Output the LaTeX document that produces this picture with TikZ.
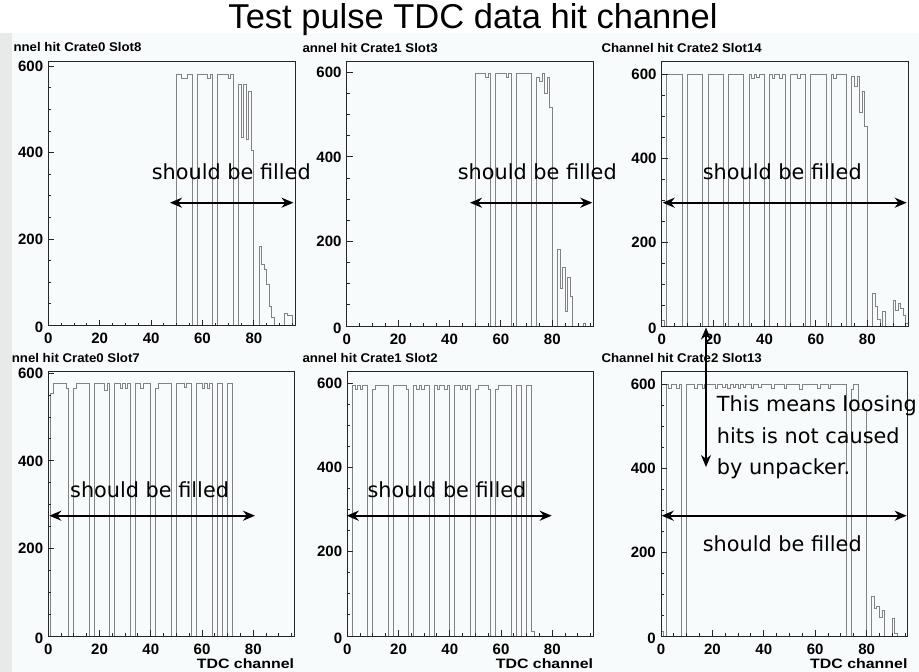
\documentclass[tikz,border=0pt]{standalone}
\usepackage{fontspec}
\setmainfont{Liberation Sans}
\newfontfamily\annotfont{DejaVu Sans}
\usetikzlibrary{arrows.meta}
\definecolor{histgray}{RGB}{130,130,130}
\definecolor{paneltint}{RGB}{248,251,251}
\definecolor{stripgray}{RGB}{232,234,234}
\tikzset{
  frame/.style={draw=black!85, line width=1pt},
  hist/.style={draw=histgray, line width=0.9pt},
  xlab/.style={font=\bfseries\fontsize{15}{15}\selectfont, inner sep=0, anchor=base, yshift=-18.3pt},
  ylab/.style={font=\bfseries\fontsize{15}{15}\selectfont, inner sep=0, anchor=east, xshift=-5pt},
  ptitle/.style={font=\bfseries\fontsize{12.6}{12.6}\selectfont, xscale=1.05, inner sep=0, anchor=base east},
  axtitle/.style={font=\bfseries\fontsize{13.6}{13.6}\selectfont, xscale=1.17, inner sep=0, anchor=base east},
  annot/.style={font=\annotfont\fontsize{20.8}{20.8}\selectfont, inner sep=0, anchor=base west},
  dbl/.style={{Stealth[length=12pt,width=10pt]}-{Stealth[length=12pt,width=10pt]}, line width=2.4pt, draw=black},
  pA/.style={shift={(48.3,325.5)}, x=2.57pt, y=0.432pt},
  pB/.style={shift={(346.7,326)}, x=2.57pt, y=0.4228pt},
  pC/.style={shift={(661.7,326)}, x=2.57pt, y=0.4195pt},
  pD/.style={shift={(48.3,636)}, x=2.5625pt, y=0.4378pt},
  pE/.style={shift={(347.3,636)}, x=2.5625pt, y=0.4211pt},
  pF/.style={shift={(661,636)}, x=2.57pt, y=0.4195pt},
}
\newcommand\panelaxes[2]{%
  \draw[frame] (0,0) rectangle (96,#2);
  \foreach \v in {50,100,...,600} \draw[frame] (0,\v) -- ++(3pt,0);
  \foreach \v in {0,200,400,600} \draw[frame] (0,\v) -- ++(6pt,0);
  \foreach \v in {5,10,...,95} \draw[frame] (\v,0) -- ++(0,3pt);
  \foreach \v in {0,20,...,80} \draw[frame] (\v,0) -- ++(0,6pt);
  \foreach \v in {200,400,600} \node[ylab] (#1y\v) at (0,\v) {\v};
  \node[ylab, yshift=-2pt] (#1y0) at (0,0) {0};
  \foreach \v in {0,20,...,80} \node[xlab] (#1x\v) at (\v,0) {\v};
}
\begin{document}
\begin{tikzpicture}[x=1pt,y=-1pt]
\useasboundingbox (0,0) rectangle (919,672);
\fill[white] (0,0) rectangle (919,672);
\fill[paneltint] (12,33) rectangle (919,672);
\fill[stripgray] (0,33) rectangle (12,672);

\node[font=\fontsize{34.5}{34.5}\selectfont, anchor=base, inner sep=0] (title) at (473,28) {Test pulse TDC data hit channel};

% panel titles
\node[ptitle] (tA) at (141.7,51.7) {nnel hit Crate0 Slot8};
\node[ptitle] (tD) at (140,362) {nnel hit Crate0 Slot7};
\node[ptitle] (tB) at (438,52) {annel hit Crate1 Slot3};
\node[ptitle] (tE) at (438,362) {annel hit Crate1 Slot2};
\node[ptitle] (tC) at (762,52.5) {Channel hit Crate2 Slot14};
\node[ptitle] (tF) at (762,362) {Channel hit Crate2 Slot13};

% Panel A: Crate0 Slot8
\begin{scope}[pA]
  \draw[hist] plot[const plot] coordinates {(0,0) (50,580) (52,571) (54,580) (56,0) (58,580) (62,571) (63,580) (64,0) (66,580) (70,571) (71,580) (72,0) (74,558) (75,435) (76,558) (77,431) (78,541) (79,406) (80,0) (82,183) (83,141) (84,129) (85,95) (86,45) (87,18) (88,0) (92,29) (93,24) (95,0) (96,0)};
  \panelaxes{A}{610}
\end{scope}

% Panel B: Crate1 Slot3
\begin{scope}[pB]
  \draw[hist] plot[const plot] coordinates {(0,0) (50,597) (54,589) (55,597) (56,0) (58,597) (62,589) (63,597) (64,0) (66,597) (72,0) (74,589) (75,578) (76,597) (77,550) (78,589) (79,518) (80,0) (82,181) (83,89) (84,138) (85,34) (86,114) (87,71) (88,0) (92,5) (93,0) (96,0)};
  \panelaxes{B}{625}
\end{scope}

% Panel C: Crate2 Slot14
\begin{scope}[pC]
  \draw[hist] plot[const plot] coordinates {(0,14) (1,0) (2,600) (8,0) (10,600) (16,0) (18,600) (24,0) (26,600) (32,0) (34,600) (35,590) (36,600) (37,592) (38,600) (40,0) (42,600) (43,591) (44,600) (46,591) (47,600) (48,0) (50,600) (53,591) (54,600) (56,0) (58,600) (64,0) (66,600) (67,591) (68,600) (72,0) (74,594) (75,570) (76,594) (77,510) (78,560) (79,475) (80,0) (82,78) (83,46) (84,16) (85,0) (86,34) (87,0) (90,60) (91,38) (92,54) (93,42) (94,24) (95,6) (96,0)};
  \panelaxes{C}{630}
\end{scope}

% Panel D: Crate0 Slot7
\begin{scope}[pD]
  \draw[hist] plot[const plot] coordinates {(0,0) (1,555) (2,577) (7,566) (8,0) (10,566) (11,577) (16,0) (18,577) (22,562) (23,577) (24,0) (26,577) (28,566) (29,577) (30,566) (31,577) (32,0) (34,577) (36,566) (37,577) (40,0) (42,566) (43,577) (48,0) (50,577) (53,568) (54,577) (56,0) (58,577) (60,566) (61,577) (62,566) (63,577) (64,0) (66,577) (68,0) (70,577) (72,0) (96,0)};
  \panelaxes{D}{604}
\end{scope}

% Panel E: Crate1 Slot2
\begin{scope}[pE]
  \draw[hist] plot[const plot] coordinates {(0,0) (2,595) (3,586) (4,595) (5,586) (6,595) (8,0) (10,586) (11,595) (16,0) (18,595) (23,586) (24,0) (26,595) (27,586) (28,595) (29,586) (30,595) (32,0) (34,595) (35,586) (36,595) (38,586) (39,595) (40,0) (42,595) (44,586) (45,595) (46,586) (47,595) (48,0) (50,586) (51,595) (55,586) (56,0) (58,586) (59,595) (64,0) (66,595) (68,0) (70,595) (72,10) (73,0) (96,0)};
  \panelaxes{E}{628}
\end{scope}

% Panel F: Crate2 Slot13
\begin{scope}[pF]
  \draw[hist] plot[const plot] coordinates {(0,10) (1,0) (2,600) (3,590) (4,600) (6,590) (7,600) (8,0) (10,600) (13,590) (14,600) (16,590) (17,600) (21,590) (22,600) (24,592) (25,600) (26,590) (27,600) (28,592) (29,600) (30,590) (31,600) (32,592) (33,600) (35,590) (36,600) (38,592) (39,600) (43,591) (44,600) (48,590) (49,600) (54,587) (55,600) (61,591) (62,600) (65,591) (66,600) (72,0) (74,588) (75,600) (77,540) (80,0) (82,95) (83,66) (84,70) (85,45) (86,60) (87,0) (90,42) (91,5) (92,0) (96,0)};
  \panelaxes{F}{630}
\end{scope}

% axis titles
\node[axtitle] (xtD) at (294.3,668) {TDC channel};
\node[axtitle] (xtE) at (593.3,668) {TDC channel};
\node[axtitle] (xtF) at (907.7,668) {TDC channel};

% annotations
\node[annot] (fA) at (151.7,179) {should be filled};
\node[annot] (fB) at (457.7,179) {should be filled};
\node[annot] (fC) at (702.7,179) {should be filled};
\node[annot] (fD) at (70,497.7) {should be filled};
\node[annot] (fE) at (367.3,497.7) {should be filled};
\node[annot] (fF) at (702.7,551) {should be filled};
\node[annot] (m1) at (716.7,411.7) {This means loosing};
\node[annot] (m2) at (716.7,443.3) {hits is not caused};
\node[annot] (m3) at (716.7,474.5) {by unpacker.};

\coordinate (aAl) at (170,202.7);  \coordinate (aAr) at (293.5,202.7);
\coordinate (aBl) at (470,202.7);  \coordinate (aBr) at (592.3,202.7);
\coordinate (aCl) at (662.7,202.7);  \coordinate (aCr) at (906.7,202.7);
\coordinate (aDl) at (49.3,515.7); \coordinate (aDr) at (255,515.7);
\coordinate (aEl) at (346.7,515.7); \coordinate (aEr) at (551.7,515.7);
\coordinate (aFl) at (661.7,515.7); \coordinate (aFr) at (906.7,515.7);
\coordinate (vT) at (706,327.5); \coordinate (vB) at (706,467);
\draw[dbl] (aAl) -- (aAr);
\draw[dbl] (aBl) -- (aBr);
\draw[dbl] (aCl) -- (aCr);
\draw[dbl] (aDl) -- (aDr);
\draw[dbl] (aEl) -- (aEr);
\draw[dbl] (aFl) -- (aFr);
\draw[dbl] (vT) -- (vB);
\end{tikzpicture}
\end{document}
